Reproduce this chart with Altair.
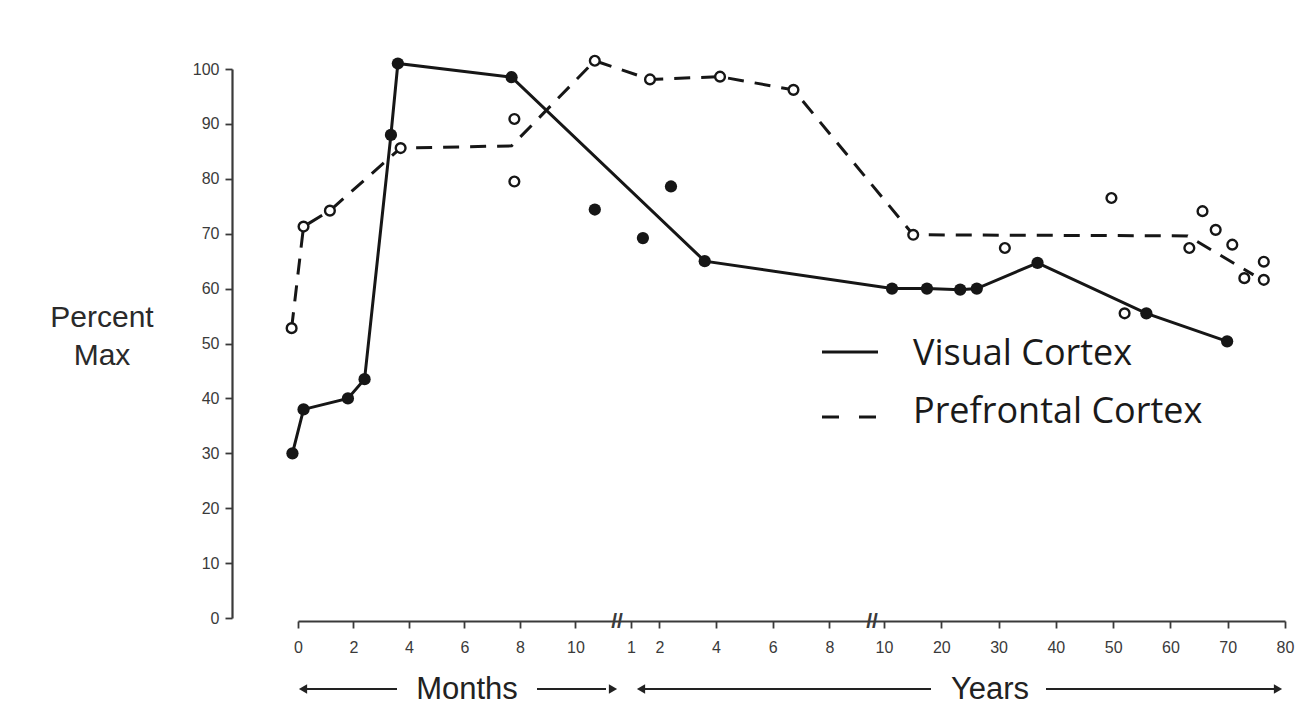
import altair as alt
import pandas as pd

# ---- data (age value + unit: "mo" months, "yr" years; percent of maximum) ----
visual_age = [-0.2, 0.2, 1.8, 2.4, 3.35, 3.6, 7.7, 3.6, 11.4, 17.5, 23.3, 26.2, 36.8, 55.8, 69.9]
visual_unit = ["mo"] * 7 + ["yr"] * 8
visual_pct = [30, 38, 40, 43.5, 88, 101, 98.5, 65, 60, 60, 59.8, 60, 64.7, 55.5, 50.4]

visual_extra_age = [10.7, 1.42, 2.41]
visual_extra_unit = ["mo", "yr", "yr"]
visual_extra_pct = [74.4, 69.2, 78.6]

prefrontal_age = [-0.23, 0.2, 1.15, 3.7, 7.7, 10.7, 1.67, 4.14, 6.73, 15.1, 63.0, 74.5]
prefrontal_unit = ["mo"] * 6 + ["yr"] * 6
prefrontal_pct = [52.8, 71.3, 74.2, 85.6, 86, 101.5, 98.1, 98.6, 96.2, 69.8, 69.6, 62.5]
prefrontal_marker = [1, 1, 1, 1, 0, 1, 1, 1, 1, 1, 0, 0]

prefrontal_extra_age = [7.8, 7.8, 31.1, 49.7, 52.0, 63.3, 65.6, 67.9, 70.8, 72.9, 76.3, 76.3]
prefrontal_extra_unit = ["mo", "mo"] + ["yr"] * 10
prefrontal_extra_pct = [90.9, 79.5, 67.4, 76.5, 55.5, 67.4, 74.1, 70.7, 68, 61.9, 64.9, 61.6]

month_ticks = [0, 2, 4, 6, 8, 10]
year_ticks = [1, 2, 4, 6, 8, 10, 20, 30, 40, 50, 60, 70, 80]
y_ticks = list(range(0, 101, 10))


def to_years(ages, units):
    return [a / 12 if u == "mo" else a for a, u in zip(ages, units)]


visual = pd.DataFrame({"age": to_years(visual_age, visual_unit), "pct": visual_pct,
                       "i": range(len(visual_pct))})
visual_extra = pd.DataFrame({"age": to_years(visual_extra_age, visual_extra_unit),
                             "pct": visual_extra_pct})
prefrontal = pd.DataFrame({"age": to_years(prefrontal_age, prefrontal_unit), "pct": prefrontal_pct,
                           "marker": prefrontal_marker, "i": range(len(prefrontal_pct))})
prefrontal_pts = pd.concat([
    prefrontal[prefrontal["marker"] == 1][["age", "pct"]],
    pd.DataFrame({"age": to_years(prefrontal_extra_age, prefrontal_extra_unit),
                  "pct": prefrontal_extra_pct}),
])
solid_pts = pd.concat([visual[["age", "pct"]], visual_extra])

# broken age axis: months segment, 1-10 years segment, 10-80 years segment
W, H = 1053, 549
x_scale = alt.Scale(domain=[0, 11.5 / 12, 1, 9.5, 10, 80],
                    range=[66, 385, 399, 640, 652, 1053], nice=False, zero=False)
y_scale = alt.Scale(domain=[0, 100], nice=False, zero=False)

tick_values = [m / 12 for m in month_ticks] + year_ticks
INK = "#161616"
AX = "#3a3a3a"

x_enc = alt.X("age:Q", scale=x_scale,
              axis=alt.Axis(values=tick_values, title=None, offset=3,
                            labelExpr="datum.value < 0.9 ? '' + round(datum.value * 12) : '' + round(datum.value)",
                            labelOverlap=False, labelFlush=False, labelFont="Liberation Sans",
                            labelFontSize=16, labelColor=AX, labelPadding=11,
                            tickSize=7, tickWidth=1.8, tickColor=AX,
                            domainColor=AX, domainWidth=2.2, grid=False))
y_enc = alt.Y("pct:Q", scale=y_scale,
              axis=alt.Axis(values=y_ticks, title=None, labelFont="Liberation Sans",
                            labelFontSize=16, labelColor=AX, labelPadding=6,
                            tickSize=7, tickWidth=1.8, tickColor=AX,
                            domainColor=AX, domainWidth=2.2, grid=False))

pf_line = alt.Chart(prefrontal).mark_line(color=INK, strokeWidth=3, strokeDash=[16, 11]).encode(
    x=x_enc, y=y_enc, order="i:O")
vis_line = alt.Chart(visual).mark_line(color=INK, strokeWidth=3).encode(
    x="age:Q", y="pct:Q", order="i:O")
pf_pts = alt.Chart(prefrontal_pts).mark_point(
    shape="circle", filled=True, fill="white", stroke=INK, strokeWidth=2.4, size=95, opacity=1
).encode(x="age:Q", y="pct:Q")
vis_pts = alt.Chart(solid_pts).mark_circle(color=INK, size=150, opacity=1).encode(
    x="age:Q", y="pct:Q")

# y-axis title
ytitle = alt.Chart(pd.DataFrame({"t": ["Percent", "Max"], "yy": [258, 296]})).mark_text(
    font="Liberation Sans", fontSize=30, color="#2a2a2a", align="center", baseline="alphabetic"
).encode(x=alt.value(-130), y=alt.Y("yy:Q", scale=None), text="t:N")

# legend
leg_solid = alt.Chart(pd.DataFrame({"a": [0]})).mark_rule(color=INK, strokeWidth=3).encode(
    x=alt.value(590), x2=alt.value(646), y=alt.value(283))
leg_dash = alt.Chart(pd.DataFrame({"a": [0]})).mark_rule(
    color=INK, strokeWidth=3, strokeDash=[17, 20]).encode(
    x=alt.value(590), x2=alt.value(645), y=alt.value(348))
leg_text = alt.Chart(pd.DataFrame({"t": ["Visual Cortex", "Prefrontal Cortex"], "yy": [296, 354]})).mark_text(
    font="Open Sans", fontSize=36, color="#1a1a1a", align="left", baseline="alphabetic"
).encode(x=alt.value(681), y=alt.Y("yy:Q", scale=None), text="t:N")

# axis breaks
breaks = alt.Chart(pd.DataFrame({"xx": [385, 640]})).mark_text(
    text="//", font="Liberation Sans", fontSize=21, fontWeight="bold", color=AX,
    baseline="middle", align="center"
).encode(x=alt.X("xx:Q", scale=None), y=alt.value(553))

# Months / Years span labels with arrows
span_text = alt.Chart(pd.DataFrame({"t": ["Months", "Years"], "xx": [235, 758]})).mark_text(
    font="Liberation Sans", fontSize=31, color="#222", align="center", baseline="alphabetic"
).encode(x=alt.X("xx:Q", scale=None), y=alt.value(630), text="t:N")
arrows = pd.DataFrame({"x1": [72, 305, 410, 814], "x2": [165, 374, 699, 1045]})
arrow_lines = alt.Chart(arrows).mark_rule(color="#222", strokeWidth=2.2).encode(
    x=alt.X("x1:Q", scale=None), x2="x2:Q", y=alt.value(620))
heads = pd.DataFrame({"xx": [71, 381, 409, 1046], "shape": ["triangle-left", "triangle-right",
                                                          "triangle-left", "triangle-right"]})
arrow_heads = alt.Chart(heads).mark_point(filled=True, color="#222", size=90, opacity=1).encode(
    x=alt.X("xx:Q", scale=None), y=alt.value(620),
    shape=alt.Shape("shape:N", scale=None))

chart = alt.layer(
    pf_line, vis_line, pf_pts, vis_pts, ytitle, leg_solid, leg_dash, leg_text,
    breaks, span_text, arrow_lines, arrow_heads
).properties(
    width=W, height=H,
    autosize=alt.AutoSizeParams(type="none"),
    padding={"left": 232, "top": 69, "right": 18, "bottom": 89},
    background="white",
).configure_view(stroke=None)

chart.save("out.html", embed_options={"renderer": "svg", "actions": False})
